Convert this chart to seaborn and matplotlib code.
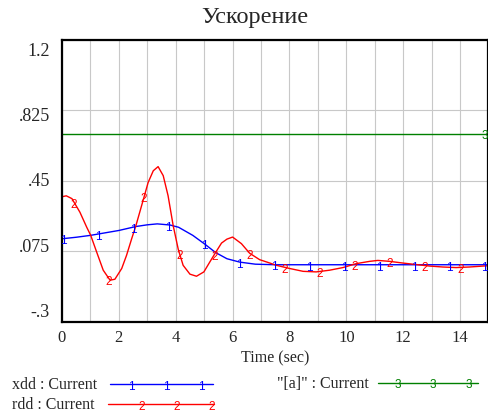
import numpy as np
import pandas as pd
import matplotlib
matplotlib.use("Agg")
import matplotlib.pyplot as plt
import seaborn as sns
from matplotlib.lines import Line2D

# ---- data -------------------------------------------------------------
time_xdd = [0.0, 0.5, 1.0, 1.5, 2.0, 2.6, 3.0, 3.35, 3.8, 4.1, 4.6, 5.0,
            5.4, 5.8, 6.25, 6.8, 7.5, 9.0, 11.0, 13.0, 15.0]
xdd = [0.142, 0.150, 0.160, 0.173, 0.186, 0.207, 0.216, 0.221, 0.215, 0.203,
       0.160, 0.116, 0.069, 0.036, 0.018, 0.007, 0.004, 0.004, 0.004, 0.004,
       0.004]

time_rdd = [0.0, 0.15, 0.35, 0.63, 0.87, 1.01, 1.22, 1.45, 1.69, 1.86, 2.10,
            2.27, 2.45, 2.60, 2.80, 3.03, 3.21, 3.38, 3.56, 3.73, 3.91, 4.09,
            4.26, 4.50, 4.73, 4.99, 5.20, 5.41, 5.61, 5.80, 6.0, 6.31, 6.6,
            6.95, 7.31, 7.54, 8.01, 8.48, 8.94, 9.41, 9.88, 10.35, 10.82,
            11.11, 11.52, 11.99, 12.46, 12.93, 13.39, 13.86, 14.33, 15.0]
rdd = [0.365, 0.370, 0.355, 0.283, 0.203, 0.160, 0.071, -0.025, -0.078,
       -0.073, -0.016, 0.054, 0.142, 0.212, 0.318, 0.441, 0.503, 0.525, 0.477,
       0.371, 0.212, 0.085, 0.001, -0.046, -0.057, -0.034, 0.019, 0.071,
       0.119, 0.140, 0.151, 0.116, 0.065, 0.031, 0.013, 0.001, -0.016,
       -0.031, -0.034, -0.025, -0.011, 0.010, 0.022, 0.027, 0.022, 0.013,
       0.005, -0.003, -0.008, -0.011, -0.008, -0.001]

time_a = [0.0, 15.0]
a_val = [0.7, 0.7]

y_grid = [-0.3, 0.075, 0.45, 0.825, 1.2]
y_labels = ["-.3", ".075", ".45", ".825", "1.2"]
x_grid = list(range(0, 16))
x_labels = [str(t) if t % 2 == 0 else "" for t in x_grid]

series_names = ["xdd : Current", "rdd : Current", '"[a]" : Current']
series_colors = ["#0000ff", "#ff0000", "#008000"]
series_tags = ["1", "2", "3"]

# ---- style ------------------------------------------------------------
sns.set_style("white")
plt.rcParams["font.family"] = ["Liberation Serif", "DejaVu Serif"]

W, H = 489, 419
fig = plt.figure(figsize=(W / 100, H / 100), dpi=100)


def fx(px):
    return px / W


def fy(py):
    return 1 - py / H


ax = fig.add_axes([fx(62), fy(322), (488.5 - 62) / W, (322 - 39.5) / H])

df_x = pd.DataFrame({"Time": time_xdd, "value": xdd})
df_r = pd.DataFrame({"Time": time_rdd, "value": rdd})
df_a = pd.DataFrame({"Time": time_a, "value": a_val})

for df, col in zip([df_x, df_r, df_a], series_colors):
    sns.lineplot(data=df, x="Time", y="value", ax=ax, color=col, lw=1.0,
                 estimator=None, sort=False)

ax.set_xlim(0, 15)
ax.set_ylim(-0.3, 1.2)

ax.set_xticks(x_grid)
ax.set_xticklabels(x_labels, fontsize=12)
ax.set_yticks(y_grid)
ax.set_yticklabels([])
ax.tick_params(axis="both", length=0)
ax.tick_params(axis="x", pad=6)
ax.grid(True, color="#c8c8c8", lw=0.8)
ax.set_axisbelow(True)
for s in ax.spines.values():
    s.set_color("black")
    s.set_linewidth(1.6)

ax.set_ylabel("")
ax.set_xlabel("Time (sec)", fontsize=11.5)
ax.xaxis.set_label_coords(0.5, (322 - 358) / 282.5)
ax.xaxis.label.set_va("center")

# value labels on the left, spread evenly inside the frame
for i, lab in enumerate(y_labels):
    py = 312.5 - i * (312.5 - 51) / 4
    fig.text(fx(50), fy(py), lab, ha="right", va="center", fontsize=13)

fig.text(fx(255), fy(23.5), "Ускорение", ha="center", va="baseline",
         fontsize=17.5)

# number tags along each curve
tag_kw = dict(ha="center", va="center", fontsize=8.5, family="Liberation Sans",
              textcoords="offset points", xytext=(0, -2), annotation_clip=False)
for k in range(13):
    t = 0.05 + 1.235 * k
    ax.annotate("1", (t, np.interp(t, time_xdd, xdd)), color=series_colors[0],
                clip_on=True, **tag_kw)
for k in range(12):
    t = 0.42 + 1.235 * k
    ax.annotate("2", (t, np.interp(t, time_rdd, rdd)), color=series_colors[1],
                clip_on=True, **tag_kw)
ax.annotate("3", (14.86, a_val[-1]), color=series_colors[2], clip_on=True,
            **tag_kw)

# legend below the chart
legend_rows = [
    (12, 385, 110, 213, [131, 166, 201]),
    (12, 405, 108, 214, [142, 177, 212]),
    (277, 384, 378, 478, [398, 433, 469]),
]
for name, col, tag, (tx, ty, x0, x1, marks) in zip(series_names, series_colors,
                                                  series_tags, legend_rows):
    fig.text(fx(tx), fy(ty), name, ha="left", va="center", fontsize=11.5)
    ly = ty - 1
    fig.add_artist(Line2D([fx(x0), fx(x1)], [fy(ly), fy(ly)], color=col, lw=1.0))
    for mx in marks:
        fig.text(fx(mx), fy(ly + 2.5), tag, ha="center", va="center",
                 fontsize=8.5, family="Liberation Sans", color=col)

fig.savefig("out.png", dpi=100)
